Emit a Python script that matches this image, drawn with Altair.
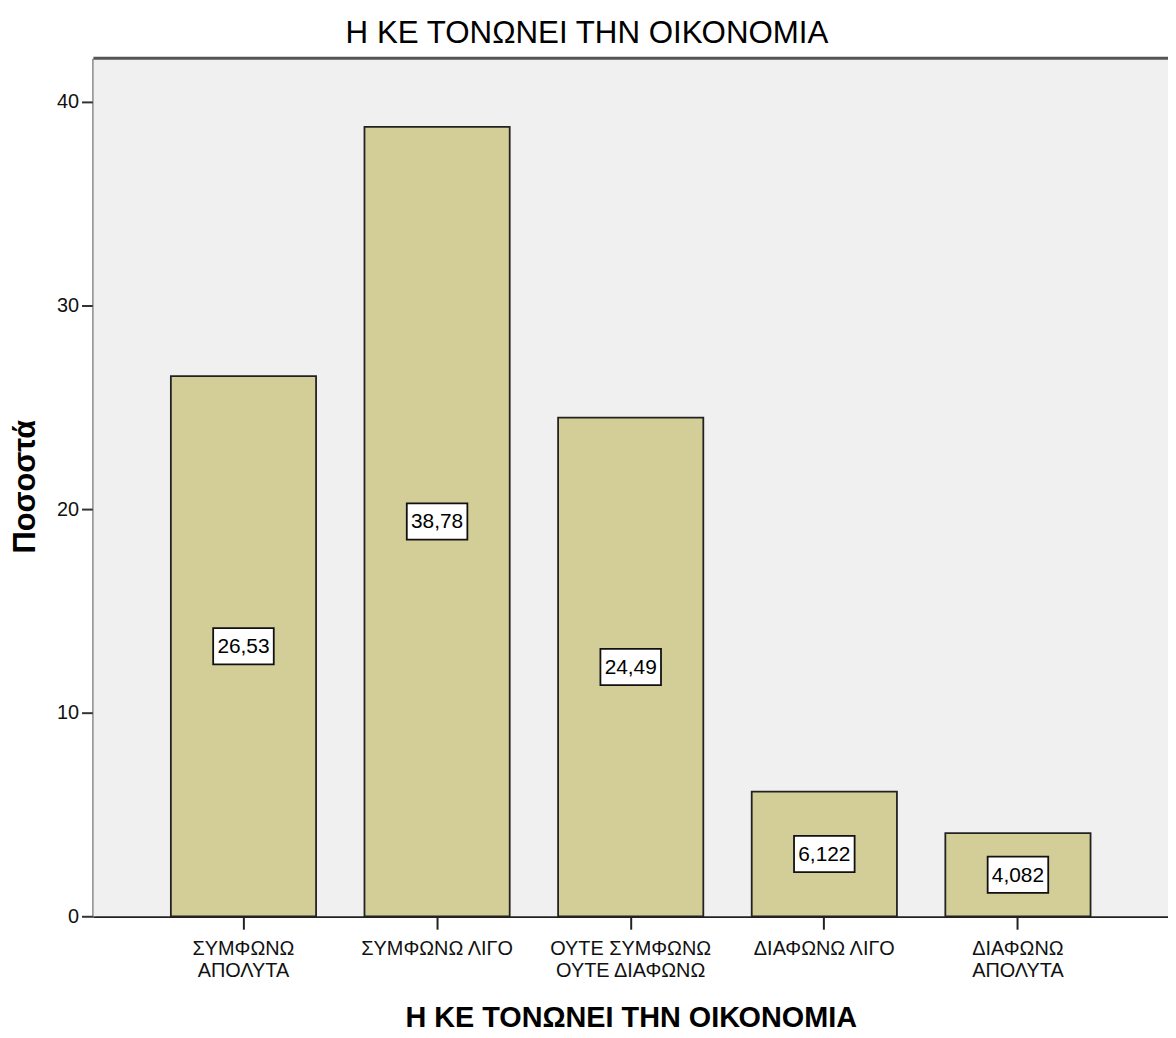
import altair as alt
import pandas as pd

categories = ["ΣΥΜΦΩΝΩ|ΑΠΟΛΥΤΑ", "ΣΥΜΦΩΝΩ ΛΙΓΟ", "ΟΥΤΕ ΣΥΜΦΩΝΩ|ΟΥΤΕ ΔΙΑΦΩΝΩ", "ΔΙΑΦΩΝΩ ΛΙΓΟ", "ΔΙΑΦΩΝΩ|ΑΠΟΛΥΤΑ"]
values = [26.53, 38.78, 24.49, 6.122, 4.082]
y_ticks = [0, 10, 20, 30, 40]
chart_title = "Η ΚΕ ΤΟΝΩΝΕΙ ΤΗΝ ΟΙΚΟΝΟΜΙΑ"
x_title = "Η ΚΕ ΤΟΝΩΝΕΙ ΤΗΝ ΟΙΚΟΝΟΜΙΑ"
y_title = "Ποσοστά"

FONT = "Liberation Sans, Arial, Helvetica, sans-serif"

df = pd.DataFrame({
    "cat": categories,
    "val": values,
    "lab": [str(v).replace(".", ",") for v in values],
})

W, H = 1082, 864
y_scale = alt.Scale(domain=[0, 42.15], nice=False, zero=True)

x_enc = alt.X("cat:N", sort=None,
              scale=alt.Scale(paddingInner=0.25, paddingOuter=0.4),
              axis=alt.Axis(title=x_title, labelAngle=0,
                            labelExpr="split(datum.value, '|')",
                            labelFont=FONT, labelFontSize=20, labelColor="#111",
                            labelLineHeight=23, labelPadding=9, labelBaseline="top",
                            tickSize=13, tickWidth=2, tickColor="#222",
                            domainColor="#222", domainWidth=2.5,
                            titleFont=FONT, titleFontSize=29, titleFontWeight="bold",
                            titleColor="#000", titleBaseline="alphabetic", titleY=111,
                            titleX=541))

bg = alt.Chart(alt.Data(values=[{"a": 1}])).mark_rect(fill="#F0F0F0").encode(
    x=alt.value(0), x2=alt.value(W), y=alt.value(0), y2=alt.value(H)
)

bars = alt.Chart(df).mark_bar(fill="#D3CE97", stroke="#222", strokeWidth=1.8).encode(
    x=x_enc,
    y=alt.Y("val:Q", scale=y_scale,
            axis=alt.Axis(title=y_title, values=y_ticks, grid=False,
                          labelFont=FONT, labelFontSize=20, labelColor="#111",
                          labelPadding=3, tickSize=12, tickWidth=2, tickColor="#333",
                          domainColor="#555", domainWidth=3,
                          titleFont=FONT, titleFontSize=31, titleFontWeight="bold",
                          titleColor="#000", titleAngle=270, titleBaseline="middle",
                          titleX=-68, titleY=H / 2 - 1)),
)

base = alt.Chart(df).transform_calculate(mid="datum.val / 2")

boxes = base.mark_point(
    shape="M-1,-0.6L1,-0.6L1,0.6L-1,0.6Z", size=61 * 61, filled=True,
    fill="white", stroke="#111", strokeWidth=1.8, opacity=1,
).encode(x=alt.X("cat:N", sort=None), y=alt.Y("mid:Q", scale=y_scale))

texts = base.mark_text(font=FONT, fontSize=21, color="#000", baseline="middle", dy=1).encode(
    x=alt.X("cat:N", sort=None), y=alt.Y("mid:Q", scale=y_scale), text="lab:N"
)

top_border = alt.Chart(alt.Data(values=[{"a": 1}])).mark_rule(
    color="#555", strokeWidth=3
).encode(y=alt.value(0), x=alt.value(0), x2=alt.value(W))

title_txt = alt.Chart(alt.Data(values=[{"t": chart_title}])).mark_text(
    font=FONT, fontSize=31.5, color="#000", baseline="alphabetic", align="center"
).encode(x=alt.value(497), y=alt.value(-15), text="t:N")

chart = alt.layer(bg, bars, boxes, texts, top_border, title_txt).properties(
    width=W, height=H,
    padding={"left": 86, "top": 47, "right": 0, "bottom": 118},
    autosize=alt.AutoSizeParams(type="none"),
).configure_view(stroke=None).configure(background="white")

chart.save("out.html", embed_options={"renderer": "svg", "actions": False})
